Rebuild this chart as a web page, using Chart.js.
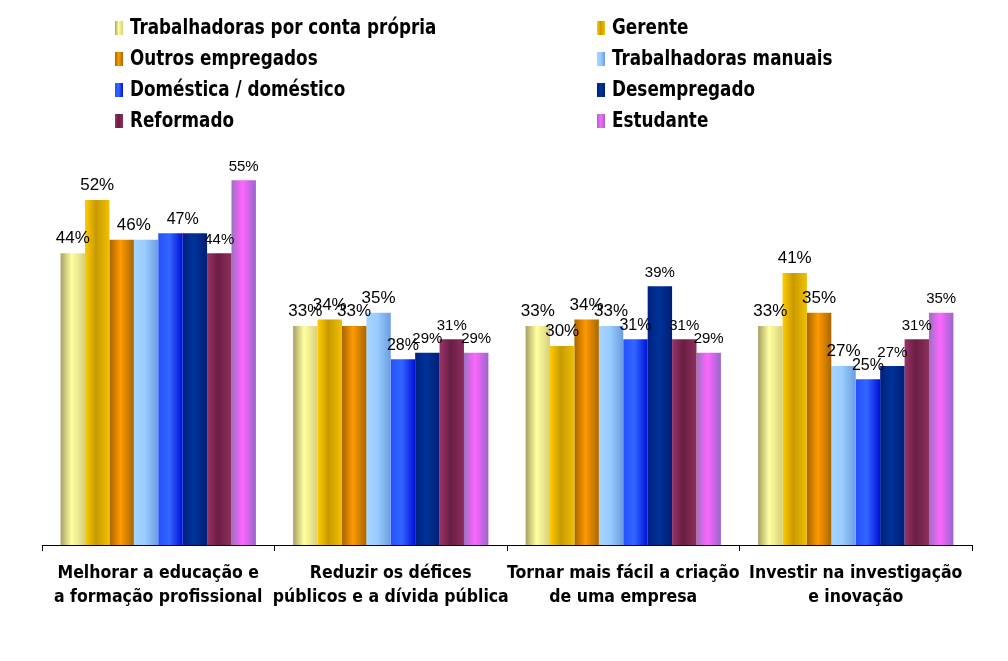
<!DOCTYPE html>
<html lang="pt">
<head>
    <meta charset="UTF-8">
    <title>Prioridades por ocupação</title>
    <script src="https://cdn.jsdelivr.net/npm/chart.js"></script>
    <style>
        body { margin: 0; background: #fff; }
        canvas { display: block; }
    </style>
</head>
<body>
    <canvas id="chart" width="1008" height="661"></canvas>

    <script>
        // Data
        const categories = [
            ['Melhorar a educação e', 'a formação profissional'],
            ['Reduzir os défices', 'públicos e a dívida pública'],
            ['Tornar mais fácil a criação', 'de uma empresa'],
            ['Investir na investigação', 'e inovação']
        ];
        const seriesNames = [
            'Trabalhadoras por conta própria', 'Gerente',
            'Outros empregados', 'Trabalhadoras manuais',
            'Doméstica / doméstico', 'Desempregado',
            'Reformado', 'Estudante'
        ];
        const contaPropria  = [44, 33, 33, 33];
        const gerente       = [52, 34, 30, 41];
        const outros        = [46, 33, 34, 35];
        const manuais       = [46, 35, 33, 27];
        const domestica     = [47, 28, 31, 25];
        const desempregado  = [47, 29, 39, 27];
        const reformado     = [44, 31, 31, 31];
        const estudante     = [55, 29, 29, 35];
        const seriesValues = [contaPropria, gerente, outros, manuais, domestica, desempregado, reformado, estudante];

        // bar look: horizontal gradient stops (left, middle, right) and base colour
        const barStyles = [
            { base: '#FFFF99', stops: ['#A8A064', '#FFFFA0', '#D8D07C'] },
            { base: '#FFCC00', stops: ['#FFCC00', '#C89A00', '#F0C000'] },
            { base: '#FF9900', stops: ['#A86400', '#FF9900', '#A86800'] },
            { base: '#99CCFF', stops: ['#A8D4FF', '#99CCFF', '#6C9CE0'] },
            { base: '#3366FF', stops: ['#2450FF', '#3366FF', '#0010D8'] },
            { base: '#003399', stops: ['#002080', '#003399', '#001E78'] },
            { base: '#993366', stops: ['#993366', '#6A1E44', '#8E2E5C'] },
            { base: '#FF66FF', stops: ['#9C70C4', '#FF66FF', '#9966CC'] }
        ];
        const labelSizes = [17, 17, 17, 17, 16, 15, 15, 15];

        function barColor(ctx) {
            const style = barStyles[ctx.datasetIndex];
            const el = ctx.chart.getDatasetMeta(ctx.datasetIndex).data[ctx.dataIndex];
            if (!el || el.x === undefined || !el.width) return style.base;
            const left = el.x - el.width / 2;
            const g = ctx.chart.ctx.createLinearGradient(left, 0, left + el.width, 0);
            g.addColorStop(0, style.stops[0]);
            g.addColorStop(0.45, style.stops[1]);
            g.addColorStop(1, style.stops[2]);
            return g;
        }

        const condensedFamily = '"Liberation Sans Narrow", "DejaVu Sans Condensed", sans-serif';

        // two-column legend drawn on the canvas
        const legendPlugin = {
            id: 'twoColLegend',
            afterDraw(chart) {
                const c = chart.ctx;
                chart.data.datasets.forEach((ds, i) => {
                    const col = i % 2, row = Math.floor(i / 2);
                    const x = col === 0 ? 115 : 597;
                    const y = 28 + row * 31;
                    const st = barStyles[i];
                    const g = c.createLinearGradient(x, 0, x + 8, 0);
                    g.addColorStop(0, st.stops[0]);
                    g.addColorStop(0.45, st.stops[1]);
                    g.addColorStop(1, st.stops[2]);
                    c.save();
                    c.fillStyle = g;
                    c.fillRect(x, y - 7, 8, 14);
                    // squeeze the text a little, like the narrow original font
                    c.translate(x + 15, y + 1);
                    c.scale(0.89, 1);
                    c.font = 'bold 21px ' + condensedFamily;
                    c.textBaseline = 'middle';
                    c.fillStyle = '#000';
                    c.fillText(ds.label, 0, 0);
                    c.restore();
                });
            }
        };

        // value labels above bars; equal neighbours share one label
        const valueLabels = {
            id: 'valueLabels',
            afterDatasetsDraw(chart) {
                const c = chart.ctx;
                const sets = chart.data.datasets;
                c.save();
                c.fillStyle = '#000';
                c.textAlign = 'center';
                c.textBaseline = 'bottom';
                sets.forEach((ds, i) => {
                    const meta = chart.getDatasetMeta(i);
                    ds.data.forEach((v, j) => {
                        if (i > 0 && sets[i - 1].data[j] === v) return;
                        const bar = meta.data[j];
                        let x = bar.x;
                        if (i < sets.length - 1 && sets[i + 1].data[j] === v) {
                            x = (bar.x + chart.getDatasetMeta(i + 1).data[j].x) / 2;
                        }
                        c.font = labelSizes[i] + 'px "Liberation Sans", Arial, sans-serif';
                        c.fillText(v + '%', x, bar.y - 6);
                    });
                });
                c.restore();
            }
        };

        const chart = new Chart(document.getElementById('chart'), {
            type: 'bar',
            data: {
                labels: categories,
                datasets: seriesNames.map((name, i) => ({
                    label: name,
                    data: seriesValues[i],
                    backgroundColor: barColor,
                    borderWidth: 0,
                    categoryPercentage: 0.84,
                    barPercentage: 1
                }))
            },
            options: {
                responsive: false,
                animation: false,
                layout: { padding: { top: 147, left: 42, right: 36, bottom: 0 } },
                plugins: {
                    legend: { display: false },
                    tooltip: { enabled: false }
                },
                scales: {
                    x: {
                        grid: {
                            drawOnChartArea: false,
                            offset: true,
                            color: '#000',
                            tickLength: 6,
                            tickColor: '#000'
                        },
                        border: { display: true, color: '#000', width: 1 },
                        ticks: {
                            color: '#000',
                            padding: 10,
                            maxRotation: 0,
                            autoSkip: false,
                            font: { family: condensedFamily, size: 17.5, weight: 'bold', lineHeight: 1.4 }
                        },
                        afterFit(scale) { scale.height = 116; }
                    },
                    y: {
                        display: false,
                        min: 0,
                        max: 60
                    }
                }
            },
            plugins: [legendPlugin, valueLabels]
        });
        // second pass so the gradients know each bar's position
        chart.update('none');
    </script>
</body>
</html>
